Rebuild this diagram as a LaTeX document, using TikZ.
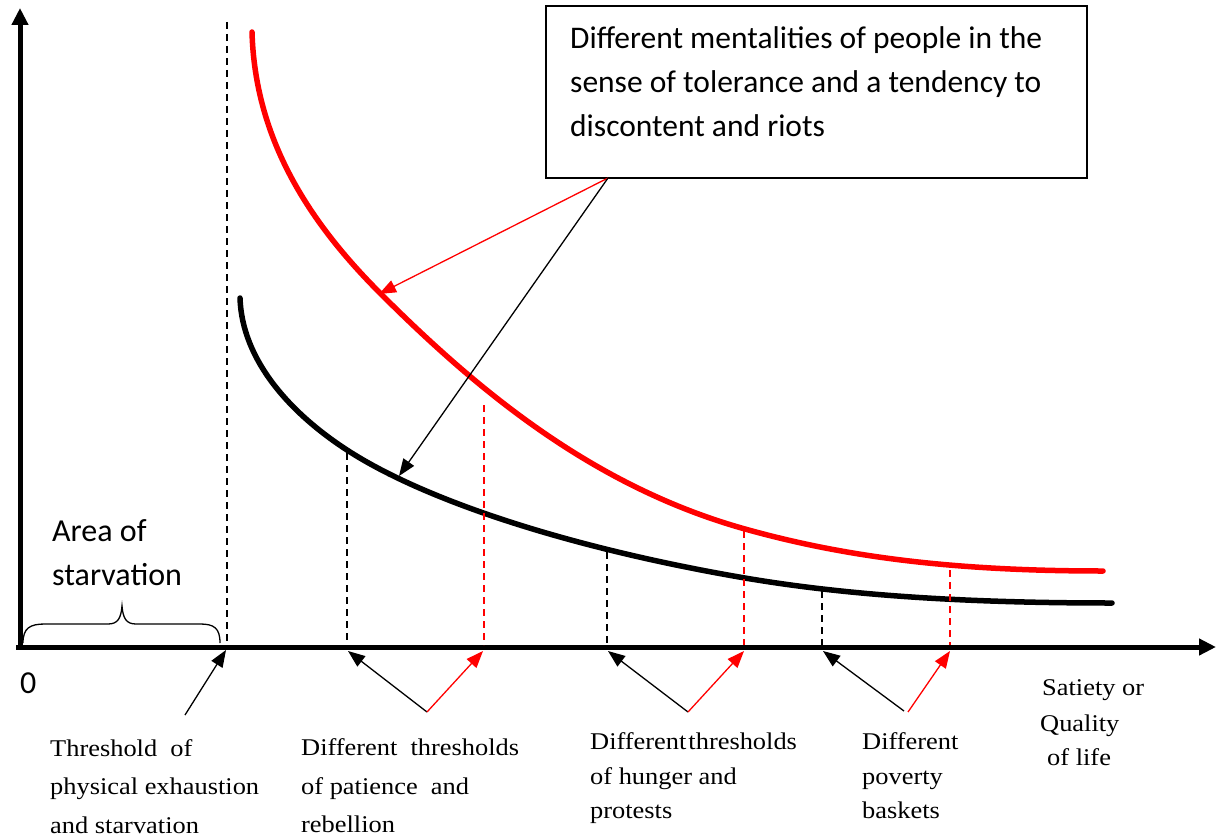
\documentclass[tikz,border=0pt]{standalone}
\usepackage{fontspec}
\setmainfont{Liberation Serif}
\newfontfamily\calibri{Carlito}
\newfontfamily\cambria[FakeStretch=1.1]{Liberation Serif}
\usetikzlibrary{arrows.meta}
\definecolor{pure red}{RGB}{255,0,0}

\begin{document}
\begin{tikzpicture}[x=1pt,y=-1pt,
  axis/.style={line width=5pt,-{Triangle[length=17pt,width=16pt]}},
  ptr/.style={line width=1.3pt,-{Triangle[length=17pt,width=13pt]}},
  guide/.style={line width=1.6pt,dash pattern=on 7pt off 5pt},
  curve/.style={line width=5.5pt,line cap=round},
  lbl/.style={font=\cambria\fontsize{24}{38.5}\selectfont,align=left,anchor=north west,inner sep=0pt},
  lbltight/.style={lbl,font=\cambria\fontsize{24}{34.5}\selectfont},
  sans/.style={font=\calibri\fontsize{32}{44}\selectfont,align=left,inner sep=0pt}
]
\useasboundingbox (0,0) rectangle (1217,837);

% axes
\coordinate (O) at (20,647);
\coordinate (ytop) at (20,8);
\coordinate (xend) at (1216,647);
\draw[axis] (O) -- (ytop);
\draw[axis] ([xshift=-4pt]O) -- (xend);

% threshold of exhaustion
\coordinate (t0) at (227,22);
\coordinate (t0b) at (227,645);
\draw[guide] (t0) -- (t0b);

% upper curve: tolerant mentality
\coordinate (R0) at (252,32);
\coordinate (R1) at (380,293);
\coordinate (R2) at (745,529);
\coordinate (R3) at (1103,571);
\draw[curve,pure red] (R0) .. controls (255,140) and (310,223) .. (R1)
  .. controls (480,393) and (595,487) .. (R2)
  .. controls (845,557) and (953,571) .. (R3);

% lower curve
\coordinate (K0) at (240,298);
\coordinate (K1) at (347,450);
\coordinate (K2) at (745,578);
\coordinate (K3) at (1112,603);
\draw[curve,black] (K0) .. controls (242,360) and (290,413) .. (K1)
  .. controls (427,502) and (575,549) .. (K2)
  .. controls (845,595) and (962,603) .. (K3);

% thresholds on the lower (black) curve
\coordinate (b1) at (347,453); \coordinate (b1x) at (347,645);
\coordinate (b2) at (607,552); \coordinate (b2x) at (607,645);
\coordinate (b3) at (822,591); \coordinate (b3x) at (822,645);
\draw[guide] (b1) -- (b1x);
\draw[guide] (b2) -- (b2x);
\draw[guide] (b3) -- (b3x);

% thresholds on the upper (red) curve
\coordinate (r1) at (484,405); \coordinate (r1x) at (484,645);
\coordinate (r2) at (744,531); \coordinate (r2x) at (744,645);
\coordinate (r3) at (950,570); \coordinate (r3x) at (950,645);
\draw[guide,pure red] (r1) -- (r1x);
\draw[guide,pure red] (r2) -- (r2x);
\draw[guide,pure red] (r3) -- (r3x);

% explanatory box
\node (box) [draw,line width=1.5pt,minimum width=541pt,minimum height=172pt,inner sep=0pt] at (816.5,92) {};
\node (boxtext) [sans,font=\calibri\fontsize{31.5}{44}\selectfont,anchor=north west] at (570,26)
  {Different mentalities of people in the\\sense of tolerance and a tendency to\\discontent and riots};
\coordinate (src) at (608,178);
\coordinate (rc) at (379,294);
\coordinate (bc) at (399,476);
\draw[ptr,pure red] (src) -- (rc);
\draw[ptr,black] (src) -- (bc);

% area of starvation
\node (area) [sans,anchor=north west] at (52,519) {Area of\\starvation};
\draw[line width=1.3pt] (23,643) .. controls (23,628) and (30,624) .. (45,624) -- (108,624)
  .. controls (118,624) and (121,618) .. (122,606) .. controls (123,618) and (126,624) .. (136,624)
  -- (200,624) .. controls (214,624) and (220,628) .. (220,643);
\node (zero) [sans,anchor=base west] at (20,693) {0};

% labels under the axis
\node (lab0) [lbl] at (50,739) {Threshold\ \ of\\physical exhaustion\\and starvation};
\coordinate (a0) at (185,715);
\coordinate (h0) at (226,650);
\draw[ptr] (a0) -- (h0);

\node (lab1) [lbl] at (301,738.5) {Different\ \ thresholds\\of patience\ \ and\\rebellion};
\coordinate (a1) at (427,712);
\coordinate (h1b) at (348,651);
\coordinate (h1r) at (483,651);
\draw[ptr] (a1) -- (h1b);
\draw[ptr,pure red] (a1) -- (h1r);

\node (lab2) [lbltight] at (590,732.5) {Different\hspace{2pt}thresholds\\of hunger and\\protests};
\coordinate (a2) at (688,712);
\coordinate (h2b) at (608,651);
\coordinate (h2r) at (744,651);
\draw[ptr] (a2) -- (h2b);
\draw[ptr,pure red] (a2) -- (h2r);

\node (lab3) [lbltight] at (862,732.5) {Different\\poverty\\baskets};
\coordinate (a3b) at (904,711);
\coordinate (a3r) at (908,712);
\coordinate (h3b) at (823,651);
\coordinate (h3r) at (950,651);
\draw[ptr] (a3b) -- (h3b);
\draw[ptr,pure red] (a3r) -- (h3r);

\node (satiety) [lbltight] at (1042,679.5) {Satiety or\\[1pt]\hspace*{-2pt}Quality\\\hspace*{5pt}of life};
\end{tikzpicture}
\end{document}
